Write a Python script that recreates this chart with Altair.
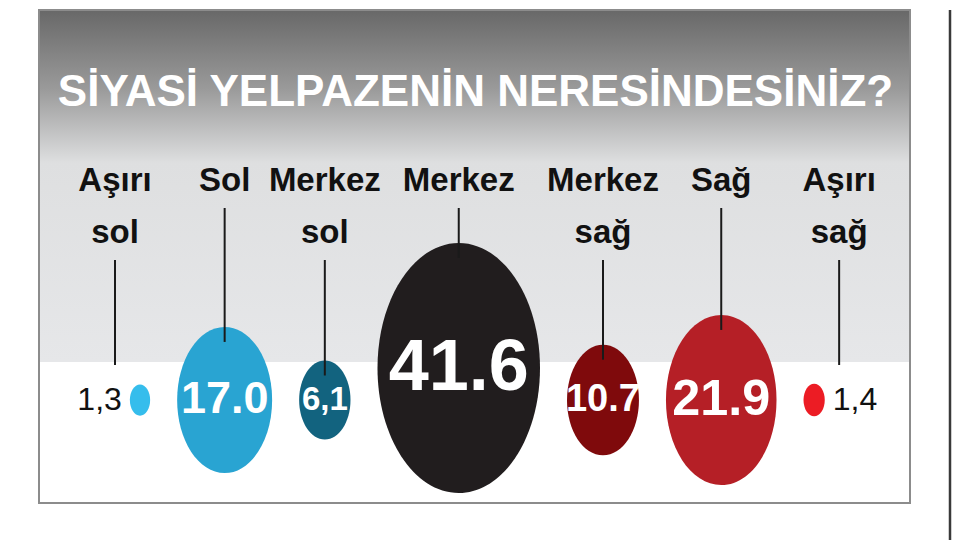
import altair as alt
import pandas as pd

# ---- data ----
categories = ["Aşırı sol", "Sol", "Merkez sol", "Merkez", "Merkez sağ", "Sağ", "Aşırı sağ"]
label_lines = [["Aşırı", "sol"], ["Sol"], ["Merkez", "sol"], ["Merkez"], ["Merkez", "sağ"], ["Sağ"], ["Aşırı", "sağ"]]
values = [1.3, 17.0, 6.1, 41.6, 10.7, 21.9, 1.4]
value_text = ["1,3", "17.0", "6,1", "41.6", "10.7", "21.9", "1,4"]
title_text = "SİYASİ YELPAZENİN NERESİNDESİNİZ?"

# ---- styles ----
colors = ["#35bdec", "#29a4d2", "#12637f", "#211d1e", "#7f0a0c", "#b51f26", "#ec1c24"]
FONT = "Liberation Sans, Arial, sans-serif"
W, H = 944, 532

# bubble size scale (area ~ value^1.2), ellipse shape (bubbles are taller than wide)
VMAX = 41.6
HMAX = 250          # height of the largest bubble
EXP = 1.2
ASPECT = 0.65
CTRL = round(ASPECT * 0.5523, 4)
ELLIPSE = (f"M0,-1C{CTRL},-1,{ASPECT},-0.5523,{ASPECT},0C{ASPECT},0.5523,{CTRL},1,0,1"
           f"C-{CTRL},1,-{ASPECT},0.5523,-{ASPECT},0C-{ASPECT},-0.5523,-{CTRL},-1,0,-1Z")

# packed row layout derived from the bubble sizes
GAP = 27
START = 132
CY = 392
FLOOR = 485
LABEL_BASE = 183
LINE_H = 52

rows = []
prev_cx = prev_w = None
n = len(values)
for i, (cat, lines, v, t) in enumerate(zip(categories, label_lines, values, value_text)):
    h = HMAX * (v / VMAX) ** (EXP / 2)
    w = ASPECT * h
    cx = START if i == 0 else prev_cx + prev_w / 2 + GAP + w / 2
    cy = min(CY, FLOOR - h / 2)
    side = -1 if i == 0 else (1 if i == n - 1 else 0)
    lx = cx + side * 25
    rule_top = LABEL_BASE + 17 + (len(lines) - 1) * LINE_H
    rule_bot = 357 if side else cy - h / 2 + 15
    nx = cx + side * (w / 2 + 8)
    rows.append(dict(category=cat, lines=lines, value=v, vt=t, cx=cx, cy=cy,
                     side=side, lx=lx, rt=rule_top, rb=rule_bot, nx=nx))
    prev_cx, prev_w = cx, w

df = pd.DataFrame(rows)

xs = alt.Scale(domain=[0, W], nice=False, zero=False)
ys = alt.Scale(domain=[0, H], reverse=True, nice=False, zero=False)

one = pd.DataFrame({"t": [title_text]})

bg = alt.Chart(one).mark_rect(
    fill={"gradient": "linear", "x1": 0, "x2": 0, "y1": 0, "y2": 1,
          "stops": [{"offset": 0, "color": "#686868"},
                    {"offset": 0.16, "color": "#9a9a9a"},
                    {"offset": 0.31, "color": "#dedfe0"},
                    {"offset": 0.713, "color": "#e6e7e9"},
                    {"offset": 0.714, "color": "#ffffff"},
                    {"offset": 1, "color": "#ffffff"}]},
    stroke="#8c8c8c", strokeWidth=2
).encode(x=alt.value(31), x2=alt.value(902), y=alt.value(2), y2=alt.value(495))

right_line = alt.Chart(one).mark_rule(color="#3a3a3a", strokeWidth=2.5).encode(
    x=alt.value(942), y=alt.value(2), y2=alt.value(532))

title = alt.Chart(one).mark_text(
    font=FONT, fontWeight="bold", fontSize=44, color="white",
    align="center", baseline="alphabetic"
).encode(x=alt.value(467.5), y=alt.value(98), text="t:N")

base = alt.Chart(df)

labels = base.mark_text(
    font=FONT, fontWeight="bold", fontSize=33, lineHeight=LINE_H, color="#111111",
    align="center", baseline="alphabetic"
).encode(
    x=alt.X("lx:Q", scale=xs, axis=None),
    y=alt.value(LABEL_BASE),
    text="lines:N",
)

bubbles = base.mark_point(shape=ELLIPSE, filled=True, opacity=1, strokeWidth=0).encode(
    x=alt.X("cx:Q", scale=xs, axis=None),
    y=alt.Y("cy:Q", scale=ys, axis=None),
    size=alt.Size("value:Q", scale=alt.Scale(type="pow", exponent=EXP, domain=[0, VMAX],
                                             range=[0, HMAX * HMAX]), legend=None),
    color=alt.Color("category:N", scale=alt.Scale(domain=categories, range=colors), legend=None),
)

rules = base.mark_rule(color="#1a1a1a", strokeWidth=2).encode(
    x=alt.X("lx:Q", scale=xs, axis=None),
    y=alt.Y("rt:Q", scale=ys, axis=None),
    y2="rb:Q",
)

nums_in = base.transform_filter("datum.side == 0").mark_text(
    font=FONT, fontWeight="bold", color="white", align="center", baseline="middle"
).encode(
    x=alt.X("cx:Q", scale=xs, axis=None),
    y=alt.Y("cy:Q", scale=ys, axis=None),
    text="vt:N",
    size=alt.Size("value:Q", scale=alt.Scale(domain=[6.1, 41.6], range=[33, 72]), legend=None),
)

nums_left = base.transform_filter("datum.side == -1").mark_text(
    font=FONT, fontSize=32, color="#111111", align="right", baseline="middle"
).encode(
    x=alt.X("nx:Q", scale=xs, axis=None),
    y=alt.Y("cy:Q", scale=ys, axis=None),
    text="vt:N",
)

nums_right = base.transform_filter("datum.side == 1").mark_text(
    font=FONT, fontSize=32, color="#111111", align="left", baseline="middle"
).encode(
    x=alt.X("nx:Q", scale=xs, axis=None),
    y=alt.Y("cy:Q", scale=ys, axis=None),
    text="vt:N",
)

chart = alt.layer(
    bg, right_line, title, labels, bubbles, rules, nums_in, nums_left, nums_right
).resolve_scale(size="independent").properties(
    width=W, height=H, autosize=alt.AutoSizeParams(type="none"), padding=0
).configure_view(stroke=None)

chart.save("out.html", embed_options={"renderer": "svg", "actions": False})
